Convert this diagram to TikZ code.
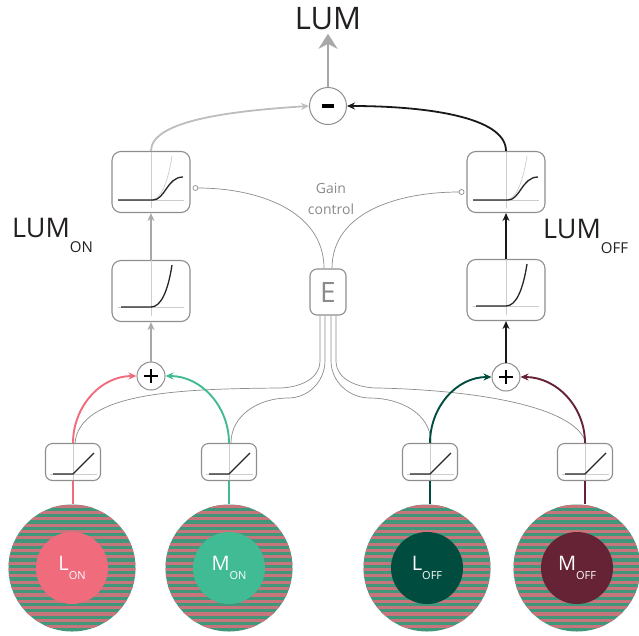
\documentclass[tikz,border=0pt]{standalone}
\usepackage{fontspec}
\setmainfont{Open Sans}
\usetikzlibrary{arrows.meta, positioning}
\definecolor{boxgray}{HTML}{8E8E8E}
\definecolor{axisgray}{HTML}{CDCDCD}
\definecolor{wiregray}{HTML}{8C8C8C}
\definecolor{arrowgray}{HTML}{A8A8A8}
\definecolor{lightgray1}{HTML}{BDBDBD}
\definecolor{textgray}{HTML}{8A8A8A}
\definecolor{lumblack}{HTML}{231F20}
\definecolor{lonred}{HTML}{F06B7C}
\definecolor{mongreen}{HTML}{40BB94}
\definecolor{loffgreen}{HTML}{004D40}
\definecolor{moffred}{HTML}{652335}
\definecolor{stripegreen}{HTML}{41977B}
\definecolor{stripepink}{HTML}{C8747B}
\newcommand{\lumsub}[1]{\raisebox{-15pt}{\fontsize{15}{15}\selectfont #1}}
\newcommand{\conesub}[1]{\raisebox{-9pt}{\fontsize{11}{11}\selectfont #1}}

\begin{document}
\begin{tikzpicture}[x=1pt, y=-1pt,
    bigbox/.style={rectangle, draw=boxgray, line width=1.1pt, rounded corners=9pt, minimum width=78pt, minimum height=61pt},
    relubox/.style={rectangle, draw=boxgray, line width=1.1pt, rounded corners=7pt, minimum width=55pt, minimum height=37pt},
    sumnode/.style={circle, draw=boxgray, line width=1pt, minimum size=28pt, inner sep=0pt},
    plussign/.style={path picture={\draw[black, line width=1.6pt] (path picture bounding box.center) ++(-7,0) -- ++(14,0) (path picture bounding box.center) ++(0,-7) -- ++(0,14);}},
    minussign/.style={path picture={\fill[black] (path picture bounding box.center) ++(-6,-2) rectangle ++(12,4);}},
    gainend/.style={circle, draw=wiregray, line width=0.7pt, fill=white, minimum size=5pt, inner sep=0pt},
    stim/.style={circle, minimum size=127pt, inner sep=0pt, fill=stripegreen,
        path picture={\foreach \k in {-11,...,10} \fill[stripepink] ([shift={(-70,\k*6.35)}]path picture bounding box.center) rectangle ++(140,3.1);}},
    cone/.style={circle, minimum size=72pt, inner sep=0pt, text=white, font=\fontsize{20}{20}\selectfont},
    axis/.style={axisgray, line width=0.9pt},
    curve/.style={black!85, line width=1.3pt},
    wire/.style={wiregray, line width=0.7pt},
    tip/.style={-{Stealth[length=8pt, width=7pt]}},
    grayarrow/.style={tip, arrowgray, line width=1.8pt},
    blackarrow/.style={tip, black!90, line width=1.8pt},
    feed/.style={line width=1.9pt}]
    \useasboundingbox (0,0) rectangle (639,635);

    \node[font=\fontsize{31}{31}\selectfont, text=lumblack] (lum) at (328,19) {LUM};
    \node[sumnode, minussign, minimum size=37pt] (minus) at (328,106) {};
    \node[bigbox] (sigL) at (151,182) {};
    \node[bigbox] (powL) at (151,291) {};
    \node[bigbox] (sigR) at (506,182) {};
    \node[bigbox] (powR) at (506,290) {};
    \node[sumnode, plussign] (plusL) at (151,376) {};
    \node[sumnode, plussign] (plusR) at (506,377) {};
    \node[rectangle, draw=boxgray, line width=1.1pt, rounded corners=7pt, minimum width=36pt, minimum height=46pt,
        text=textgray, font=\fontsize{28}{28}\selectfont] (E) at (328,292) {E};
    \node[text=textgray, align=center, font=\fontsize{14}{21}\selectfont] (gain) at (331,199) {Gain\\control};
    \node[anchor=base west, inner sep=0pt, text=lumblack, font=\fontsize{27}{27}\selectfont] (lumOn) at (12,237) {LUM\lumsub{ON}};
    \node[anchor=base west, inner sep=0pt, text=lumblack, font=\fontsize{27}{27}\selectfont] (lumOff) at (543,238) {LUM\lumsub{OFF}};
    \node[gainend, anchor=west] (gL) at ([xshift=2pt, yshift=-6pt]sigL.east) {};
    \node[gainend, anchor=east] (gR) at ([xshift=-2pt, yshift=-10pt]sigR.west) {};

    \node[relubox] (reluLon) at (73,462) {};
    \node[relubox] (reluMon) at (229,462) {};
    \node[relubox] (reluLoff) at (430,462) {};
    \node[relubox] (reluMoff) at (585,462) {};

    \node[stim] (stimLon) at (72,568) {};
    \node[stim] (stimMon) at (229,568) {};
    \node[stim] (stimLoff) at (427,568) {};
    \node[stim] (stimMoff) at (577,568) {};
    \node[cone, fill=lonred] (coneLon) at (stimLon) {L\conesub{ON}};
    \node[cone, fill=mongreen] (coneMon) at (stimMon) {M\conesub{ON}};
    \node[cone, fill=loffgreen] (coneLoff) at (stimLoff) {L\conesub{OFF}};
    \node[cone, fill=moffred] (coneMoff) at (stimMoff) {M\conesub{OFF}};

    \foreach \b in {sigL, sigR} {
        \begin{scope}[shift={(\b.center)}]
            \draw[axis] (-33,18) -- (33,18) (0,-30) -- (0,26);
            \draw[axis, line width=0.7pt] (0,18) .. controls (10,18) and (17,0) .. (21,-26);
            \draw[curve] (-33,18) -- (2,18) .. controls (14,18) and (16,-5) .. (32,-5);
        \end{scope}
    }
    \foreach \b in {powL, powR} {
        \begin{scope}[shift={(\b.center)}]
            \draw[axis] (-33,16) -- (33,16) (0,-31) -- (0,25);
            \draw[curve] (-30,16) -- (0,16) .. controls (10,16) and (17,0) .. (21,-26);
        \end{scope}
    }
    \foreach \b in {reluLon, reluMon, reluLoff, reluMoff} {
        \begin{scope}[shift={(\b.center)}]
            \draw[axis] (-23,12) -- (24,12) (0,-18) -- (0,18);
            \draw[curve] (-20,12) -- (0,12) -- (21,-9);
        \end{scope}
    }

    \draw[wire] ([xshift=-4pt]E.north) to[out=90, in=0] (gL);
    \draw[wire] ([xshift=4pt]E.north) to[out=90, in=180] (gR);
    \draw[wire] ([xshift=-8pt]E.south) -- ++(0,45) to[out=-90, in=0] (278,388) .. controls (180,389) and (80,392) .. ([xshift=2pt]reluLon.north);
    \draw[wire] ([xshift=-3pt]E.south) -- ++(0,45) to[out=-90, in=0] (288,398) to[out=180, in=90] ([xshift=2pt]reluMon.north);
    \draw[wire] ([xshift=3pt]E.south) -- ++(0,45) to[out=-90, in=180] (370,398) to[out=0, in=90] ([xshift=1pt]reluLoff.north);
    \draw[wire] ([xshift=8pt]E.south) -- ++(0,45) to[out=-90, in=180] (378,388) .. controls (470,390) and (575,405) .. ([xshift=1pt]reluMoff.north);

    \draw[grayarrow, line width=2.7pt, -{Stealth[length=15pt, width=19pt]}] (minus) -- (lum);
    \draw[grayarrow] (plusL) -- (powL);
    \draw[grayarrow] (powL) -- (sigL);
    \draw[grayarrow, lightgray1] (sigL.north) .. controls +(0,-30) and +(-80,5) .. (minus.west);
    \draw[blackarrow] (plusR) -- (powR);
    \draw[blackarrow] (powR) -- (sigR);
    \draw[blackarrow] (sigR.north) .. controls +(0,-35) and +(75,0) .. (minus.east);

    \draw[feed, tip, lonred] (reluLon.north) to[out=90, in=180] (plusL);
    \draw[feed, tip, mongreen] (reluMon.north) to[out=90, in=0] (plusL);
    \draw[feed, tip, loffgreen] (reluLoff.north) to[out=90, in=180] (plusR);
    \draw[feed, tip, moffred] (reluMoff.north) to[out=90, in=0] (plusR);
    \draw[feed, lonred] (reluLon) -- (reluLon |- stimLon.north);
    \draw[feed, mongreen] (reluMon) -- (reluMon |- stimMon.north);
    \draw[feed, loffgreen] (reluLoff) -- (reluLoff |- stimLoff.north);
    \draw[feed, moffred] (reluMoff) -- (reluMoff |- stimMoff.north);
\end{tikzpicture}
\end{document}
